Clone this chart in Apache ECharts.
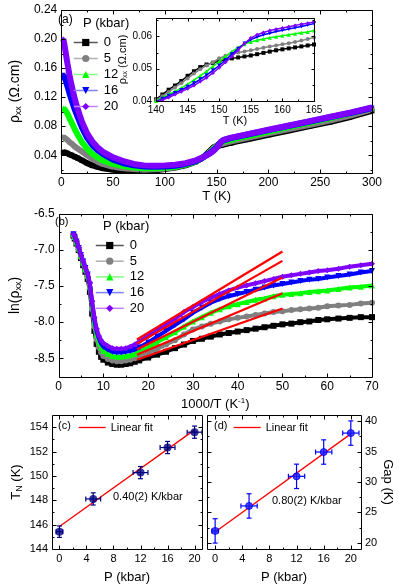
<!DOCTYPE html>
<html><head><meta charset="utf-8">
<script src="https://cdn.jsdelivr.net/npm/echarts@6/dist/echarts.min.js"></script>
<style>html,body{margin:0;padding:0;background:#fff}#c{width:399px;height:588px}</style>
</head><body><div id="c"></div>
<script>
// ---------- Panel (a): rho_xx vs T ----------
const pressureNames = ['0','5','12','16','20'];
const T_low = [2,3,4,6,8,10,13,16,20,25,30,35,40,50,60,70,80,90,100,110,120,130,135];
const rhoLow0  = [0.044,0.044,0.0435,0.0425,0.041,0.040,0.038,0.036,0.033,0.029,0.026,0.024,0.022,0.020,0.019,0.0185,0.0185,0.019,0.021,0.023,0.026,0.031,0.0355];
const rhoLow5  = [0.065,0.064,0.063,0.061,0.058,0.056,0.052,0.049,0.045,0.040,0.035,0.031,0.028,0.024,0.022,0.021,0.020,0.0205,0.0215,0.0235,0.027,0.0315,0.0355];
const rhoLow12 = [0.105,0.104,0.102,0.097,0.091,0.085,0.076,0.068,0.058,0.049,0.042,0.037,0.033,0.028,0.025,0.023,0.022,0.022,0.0225,0.024,0.027,0.0315,0.035];
const rhoLow16 = [0.150,0.148,0.144,0.135,0.125,0.116,0.103,0.092,0.078,0.064,0.054,0.047,0.042,0.034,0.029,0.026,0.0245,0.024,0.0245,0.0255,0.028,0.032,0.035];
const rhoLow20 = [0.200,0.193,0.184,0.166,0.150,0.136,0.118,0.103,0.086,0.070,0.059,0.051,0.045,0.037,0.032,0.028,0.026,0.0255,0.026,0.027,0.029,0.033,0.036];

const T_inset = [140,141,142,143,144,145,146,147,148,149,150,151,152,153,154,155,156,157,158,159,160,161,162,163,164,165];
const rhoIns0  = [0.0405,0.042,0.0435,0.0448,0.0462,0.0478,0.0492,0.0505,0.0513,0.0518,0.0523,0.0528,0.0532,0.0535,0.0538,0.0541,0.0545,0.0549,0.0553,0.0557,0.056,0.0563,0.0566,0.0569,0.0572,0.0575];
const rhoIns5  = [0.0403,0.0415,0.0428,0.0442,0.0455,0.047,0.0485,0.0498,0.051,0.052,0.0532,0.054,0.0546,0.055,0.0553,0.0557,0.0561,0.0565,0.0569,0.0572,0.0576,0.0579,0.0583,0.0587,0.0592,0.0597];
const rhoIns12 = [0.0400,0.041,0.042,0.043,0.044,0.0452,0.0465,0.0478,0.0492,0.0507,0.0522,0.0538,0.0553,0.0566,0.0576,0.0583,0.0588,0.0592,0.0596,0.0599,0.0602,0.0605,0.0608,0.0611,0.0614,0.0618];
const rhoIns16 = [0.0398,0.0407,0.0416,0.0425,0.0434,0.0444,0.0455,0.0467,0.048,0.0495,0.051,0.0527,0.0545,0.0562,0.0578,0.059,0.0598,0.0605,0.061,0.0615,0.0619,0.0623,0.0627,0.0631,0.0635,0.064];
const rhoIns20 = [0.0395,0.0403,0.0411,0.042,0.0429,0.0438,0.0448,0.046,0.0472,0.0487,0.0503,0.052,0.0538,0.0558,0.0578,0.0595,0.0605,0.0612,0.0618,0.0622,0.0626,0.063,0.0634,0.0638,0.0641,0.0645];

const T_high = [170,180,200,220,240,260,280,300];
const rhoHigh0  = [0.059,0.062,0.068,0.074,0.080,0.086,0.093,0.101];
const rhoHigh5  = [0.061,0.064,0.070,0.076,0.082,0.088,0.095,0.103];
const rhoHigh12 = [0.0635,0.0665,0.0725,0.079,0.085,0.0915,0.098,0.1055];
const rhoHigh16 = [0.0655,0.0685,0.0745,0.0805,0.0865,0.0925,0.0985,0.105];
const rhoHigh20 = [0.066,0.069,0.075,0.081,0.087,0.093,0.099,0.106];

// ---------- Panel (b): ln(rho) vs 1000/T ----------
const invT = [3.33,3.6,4,4.5,5,5.5,6,6.5,7,7.5,8,8.5,9,9.5,10,11,12,13,14,15,16,17,18,20,22,24,26,28,30,32,34,36,38,40,42,44,46,48,50,52,54,56,58,60,62.5,65,67.5,70];
const lnRho0  = [-6.80,-6.84,-6.91,-7.00,-7.11,-7.21,-7.30,-7.40,-7.58,-7.88,-8.12,-8.30,-8.41,-8.48,-8.52,-8.56,-8.58,-8.59,-8.59,-8.58,-8.57,-8.55,-8.53,-8.49,-8.45,-8.41,-8.36,-8.31,-8.26,-8.23,-8.20,-8.17,-8.15,-8.13,-8.11,-8.09,-8.07,-8.05,-8.03,-8.02,-8.00,-7.99,-7.97,-7.96,-7.95,-7.94,-7.93,-7.93];
const lnRho5  = [-6.79,-6.83,-6.90,-6.99,-7.10,-7.19,-7.28,-7.37,-7.53,-7.82,-8.06,-8.24,-8.35,-8.42,-8.47,-8.51,-8.53,-8.54,-8.54,-8.53,-8.52,-8.50,-8.48,-8.43,-8.37,-8.31,-8.25,-8.17,-8.10,-8.06,-8.02,-7.99,-7.96,-7.94,-7.92,-7.90,-7.88,-7.86,-7.85,-7.83,-7.82,-7.81,-7.80,-7.78,-7.77,-7.76,-7.74,-7.73];
const lnRho12 = [-6.78,-6.82,-6.89,-6.98,-7.08,-7.17,-7.26,-7.35,-7.50,-7.77,-8.00,-8.17,-8.28,-8.35,-8.40,-8.44,-8.47,-8.48,-8.48,-8.47,-8.46,-8.44,-8.41,-8.35,-8.28,-8.21,-8.14,-8.06,-7.99,-7.93,-7.87,-7.82,-7.78,-7.75,-7.72,-7.69,-7.67,-7.64,-7.62,-7.61,-7.60,-7.58,-7.57,-7.56,-7.54,-7.52,-7.51,-7.49];
const lnRho16 = [-6.78,-6.82,-6.88,-6.97,-7.07,-7.16,-7.25,-7.34,-7.48,-7.74,-7.97,-8.13,-8.23,-8.30,-8.34,-8.38,-8.41,-8.42,-8.42,-8.41,-8.40,-8.38,-8.35,-8.28,-8.20,-8.12,-8.04,-7.96,-7.87,-7.80,-7.73,-7.68,-7.64,-7.61,-7.58,-7.55,-7.52,-7.49,-7.47,-7.45,-7.43,-7.41,-7.40,-7.38,-7.36,-7.34,-7.31,-7.29];
const lnRho20 = [-6.78,-6.81,-6.87,-6.96,-7.06,-7.15,-7.24,-7.33,-7.46,-7.71,-7.93,-8.09,-8.19,-8.25,-8.29,-8.33,-8.36,-8.37,-8.37,-8.36,-8.34,-8.31,-8.27,-8.19,-8.11,-8.03,-7.95,-7.86,-7.79,-7.72,-7.66,-7.61,-7.56,-7.52,-7.49,-7.46,-7.43,-7.40,-7.37,-7.35,-7.33,-7.31,-7.29,-7.28,-7.26,-7.23,-7.21,-7.19];
const fitX   = [17.5, 50];
const fitLn0  = [-8.52,-7.81];
const fitLn5  = [-8.45,-7.60];
const fitLn12 = [-8.38,-7.38];
const fitLn16 = [-8.30,-7.15];
const fitLn20 = [-8.24,-7.02];

// ---------- Panels (c), (d) ----------
const P = [0,5,12,16,20];
const TN = [145.42,148.11,150.27,152.33,153.59];
const TNerr = [0.47,0.5,0.5,0.5,0.5];
const PerrC = [0.5,1.1,1.1,1.1,1.1];
const fitP = [0,20];
const fitTN = [145.84,153.78];
const gap = [21.97,26.07,30.93,34.92,38.03];
const gapErr = [2,2,2,2,2];
const PerrD = [0.5,1.2,1.2,1.2,1.2];
const fitGap = [21.8,37.9];

// ---------- Tick label values and tick positions ----------
const aXLabels = [0,50,100,150,200,250,300];
const aXMinor = [25,75,125,175,225,275];
const aYLabels = [0.04,0.08,0.12,0.16,0.20,0.24];
const aYMinor = [0.02,0.06,0.10,0.14,0.18,0.22];
const iXLabels = [140,145,150,155,160,165];
const iXMinor = [142.5,147.5,152.5,157.5,162.5];
const iYLabels = [0.04,0.05,0.06];
const iYMinor = [0.045,0.055,0.065];
const bXLabels = [0,10,20,30,40,50,60,70];
const bXMinor = [5,15,25,35,45,55,65];
const bYLabels = [-6.5,-7.0,-7.5,-8.0,-8.5];
const bYMinor = [-6.75,-7.25,-7.75,-8.25];
const pLabels = [0,4,8,12,16,20];
const pMinor = [2,6,10,14,18];
const cYLabels = [144,146,148,150,152,154];
const cYMinor = [145,147,149,151,153];
const dYLabels = [20,25,30,35,40];
const dYMinor = [22.5,27.5,32.5,37.5];

// ---------- styles ----------
const colors = ['#000000','#808080','#00ff00','#0000ff','#7f00ff'];
const legendLine = ['#555555','#b0b0b0','#80ff80','#8080ff','#c080ff'];
const symbols = ['rect','circle','triangle','triangle','diamond'];
const rots = [0,0,0,180,0];
const FONT = 'Liberation Sans, Arial, sans-serif';

const zip = (xs, ys) => xs.map((x, i) => [x, ys[i]]);

function ax(gi, pos, min, max, labels, fmt, fs, extra) {
  const o = {
    gridIndex: gi, type: 'value', position: pos, min: min, max: max,
    axisLine: {show: false, onZero: false},
    axisTick: {show: false},
    axisLabel: {show: true, customValues: labels, formatter: fmt, fontSize: fs, color: '#000', fontFamily: FONT, margin: 4},
    splitLine: {show: false},
    nameTextStyle: {fontFamily: FONT, color: '#000', fontSize: 13}
  };
  return Object.assign(o, extra || {});
}
const f2 = v => v.toFixed(2);
const f1 = v => v.toFixed(1);
const fi = v => String(v);

const subRich = {
  s: {fontSize: 9, fontFamily: FONT, color: '#000', padding: [7, 0, 0, 0]},
  sup: {fontSize: 8, fontFamily: FONT, color: '#000', padding: [0, 0, 7, 0]}
};

const xAxis = [
  ax(0, 'bottom', 0, 300, aXLabels, fi, 12, {name: 'T (K)', nameLocation: 'middle', nameGap: 16}),
  ax(1, 'bottom', 140, 165, iXLabels, fi, 10, {name: 'T (K)', nameLocation: 'middle', nameGap: 13,
     nameTextStyle: {fontFamily: FONT, color: '#000', fontSize: 11}}),
  ax(2, 'bottom', 0, 70, bXLabels, fi, 12, {name: '1000/T (K{sup|-1})', nameLocation: 'middle', nameGap: 20,
     nameTextStyle: {fontFamily: FONT, color: '#000', fontSize: 13, rich: subRich}}),
  ax(3, 'bottom', -1.1, 21.1, pLabels, fi, 11, {name: 'P (kbar)', nameLocation: 'middle', nameGap: 22}),
  ax(4, 'bottom', -1.2, 21.5, pLabels, fi, 11, {name: 'P (kbar)', nameLocation: 'middle', nameGap: 22})
];
const yAxis = [
  ax(0, 'left', 0.0155, 0.24, aYLabels, f2, 12, {name: 'ρ{s|xx} (Ω.cm)', nameLocation: 'middle', nameGap: 29,
     nameTextStyle: {fontFamily: FONT, color: '#000', fontSize: 14, rich: subRich}}),
  ax(1, 'left', 0.04, 0.0657, iYLabels, f2, 10, {name: 'ρ{s|xx} (Ω.cm)', nameLocation: 'middle', nameGap: 27,
     nameTextStyle: {fontFamily: FONT, color: '#000', fontSize: 11, rich: {s: {fontSize: 7, padding: [5,0,0,0], fontFamily: FONT}}}}),
  ax(2, 'left', -8.76, -6.5, bYLabels, f1, 12, {name: 'ln(ρ{s|xx})', nameLocation: 'middle', nameGap: 24,
     nameTextStyle: {fontFamily: FONT, color: '#000', fontSize: 14, rich: subRich}}),
  ax(3, 'left', 144, 155, cYLabels, fi, 11, {name: 'T{s|N} (K)', nameLocation: 'middle', nameGap: 28,
     nameTextStyle: {fontFamily: FONT, color: '#000', fontSize: 13, rich: subRich}}),
  ax(4, 'right', 19, 41, dYLabels, fi, 11, {name: 'Gap (K)', nameLocation: 'middle', nameGap: 20, nameRotate: -90})
];

const grid = [
  {left: 52, top: 10, width: 320, height: 163},
  {left: 156, top: 18, width: 158, height: 83, show: true, backgroundColor: '#fff', borderWidth: 0, z: 5},
  {left: 52, top: 214, width: 320, height: 163},
  {left: 52, top: 415, width: 150, height: 134},
  {left: 207, top: 415, width: 154, height: 134}
];

const lowArr = [rhoLow0, rhoLow5, rhoLow12, rhoLow16, rhoLow20];
const insArr = [rhoIns0, rhoIns5, rhoIns12, rhoIns16, rhoIns20];
const highArr = [rhoHigh0, rhoHigh5, rhoHigh12, rhoHigh16, rhoHigh20];
const lnArr = [lnRho0, lnRho5, lnRho12, lnRho16, lnRho20];
const fitArr = [fitLn0, fitLn5, fitLn12, fitLn16, fitLn20];

const series = [];
pressureNames.forEach((nm, i) => {
  series.push({
    name: nm, type: 'line', xAxisIndex: 0, yAxisIndex: 0,
    data: zip(T_low.concat(T_inset, T_high), lowArr[i].concat(insArr[i], highArr[i])),
    symbol: symbols[i], symbolRotate: rots[i], symbolSize: 5, showSymbol: true,
    color: colors[i], lineStyle: {width: 6, color: colors[i]}, itemStyle: {color: colors[i]},
    animation: false, z: 2 + i * 0.1
  });
});
pressureNames.forEach((nm, i) => {
  series.push({
    name: nm, type: 'line', xAxisIndex: 1, yAxisIndex: 1,
    data: zip(T_inset, insArr[i]),
    symbol: symbols[i], symbolRotate: rots[i], symbolSize: 4,
    color: colors[i], lineStyle: {width: 1.5, color: colors[i]}, itemStyle: {color: colors[i]},
    animation: false, z: 6 + i * 0.1
  });
});
pressureNames.forEach((nm, i) => {
  series.push({
    name: nm, type: 'line', xAxisIndex: 2, yAxisIndex: 2,
    data: zip(invT, lnArr[i]),
    symbol: symbols[i], symbolRotate: rots[i], symbolSize: 6,
    color: colors[i], lineStyle: {width: 4, color: colors[i]}, itemStyle: {color: colors[i]},
    animation: false, z: 2 + i * 0.1
  });
});
fitArr.forEach((f, i) => {
  series.push({
    name: 'fit' + i, type: 'line', xAxisIndex: 2, yAxisIndex: 2,
    data: zip(fitX, f), symbol: 'none', lineStyle: {width: 2.2, color: '#ff0000'},
    animation: false, z: 4
  });
});

function errBars(color) {
  return function (params, api) {
    const x = api.value(0), y = api.value(1), ex = api.value(2), ey = api.value(3);
    const l = api.coord([x - ex, y]), r = api.coord([x + ex, y]);
    const t = api.coord([x, y + ey]), b = api.coord([x, y - ey]);
    const st = {stroke: color, lineWidth: 1.2};
    const cap = 2.5;
    return {type: 'group', children: [
      {type: 'line', shape: {x1: l[0], y1: l[1], x2: r[0], y2: r[1]}, style: st},
      {type: 'line', shape: {x1: t[0], y1: t[1], x2: b[0], y2: b[1]}, style: st},
      {type: 'line', shape: {x1: l[0], y1: l[1] - cap, x2: l[0], y2: l[1] + cap}, style: st},
      {type: 'line', shape: {x1: r[0], y1: r[1] - cap, x2: r[0], y2: r[1] + cap}, style: st},
      {type: 'line', shape: {x1: t[0] - cap, y1: t[1], x2: t[0] + cap, y2: t[1]}, style: st},
      {type: 'line', shape: {x1: b[0] - cap, y1: b[1], x2: b[0] + cap, y2: b[1]}, style: st}
    ]};
  };
}

// (c)
series.push({name: 'Linear fit', type: 'line', xAxisIndex: 3, yAxisIndex: 3, data: zip(fitP, fitTN),
  symbol: 'none', lineStyle: {width: 1.3, color: '#ff0000'}, color: '#ff0000', animation: false, z: 3});
series.push({type: 'custom', xAxisIndex: 3, yAxisIndex: 3, renderItem: errBars('#00007f'),
  data: P.map((p, i) => [p, TN[i], PerrC[i], TNerr[i]]), encode: {x: 0, y: 1}, animation: false, z: 4});
series.push({type: 'scatter', xAxisIndex: 3, yAxisIndex: 3, data: zip(P, TN), symbol: 'circle', symbolSize: 8,
  itemStyle: {color: '#00007f'}, animation: false, z: 5});
// (d)
series.push({name: 'Linear fit', type: 'line', xAxisIndex: 4, yAxisIndex: 4, data: zip(fitP, fitGap),
  symbol: 'none', lineStyle: {width: 1.3, color: '#ff0000'}, color: '#ff0000', animation: false, z: 3});
series.push({type: 'custom', xAxisIndex: 4, yAxisIndex: 4, renderItem: errBars('#0000ff'),
  data: P.map((p, i) => [p, gap[i], PerrD[i], gapErr[i]]), encode: {x: 0, y: 1}, animation: false, z: 4});
series.push({type: 'scatter', xAxisIndex: 4, yAxisIndex: 4, data: zip(P, gap), symbol: 'circle', symbolSize: 7,
  itemStyle: {color: '#1a1aff', borderColor: '#0000ff'}, animation: false, z: 5});

// ---------- frames and inward ticks (mirrored on all four sides), placed by the axes' scales ----------
function frameTicks(params, api) {
  const cs = params.coordSys;
  const kind = api.value(2), len = api.value(3);
  const st = {stroke: '#000', lineWidth: 1};
  const r = v => Math.round(v) + 0.5;
  const L = cs.x, R = cs.x + cs.width, T = cs.y, B = cs.y + cs.height;
  if (kind === 2) {
    return {type: 'rect', shape: {x: r(L), y: r(T), width: Math.round(R) - Math.round(L), height: Math.round(B) - Math.round(T)},
            style: {fill: null, stroke: '#000', lineWidth: 1}};
  }
  const c = api.coord([api.value(0), api.value(1)]);
  if (kind === 0) {
    const x = r(c[0]);
    return {type: 'group', children: [
      {type: 'line', shape: {x1: x, y1: r(B), x2: x, y2: r(B) - len}, style: st},
      {type: 'line', shape: {x1: x, y1: r(T), x2: x, y2: r(T) + len}, style: st}]};
  }
  const y = r(c[1]);
  return {type: 'group', children: [
    {type: 'line', shape: {x1: r(L), y1: y, x2: r(L) + len, y2: y}, style: st},
    {type: 'line', shape: {x1: r(R), y1: y, x2: r(R) - len, y2: y}, style: st}]};
}
function tickRows(xMin, yMin, xMaj, xMin_, yMaj, yMin_, majLen, minLen) {
  const rows = [[xMin, yMin, 2, 0]];
  xMaj.forEach(v => rows.push([v, yMin, 0, majLen]));
  xMin_.forEach(v => rows.push([v, yMin, 0, minLen]));
  yMaj.forEach(v => rows.push([xMin, v, 1, majLen]));
  yMin_.forEach(v => rows.push([xMin, v, 1, minLen]));
  return rows;
}
const tickSets = [
  [0, 0, 0.0155, aXLabels, aXMinor, aYLabels, aYMinor, 4, 2, 10],
  [1, 140, 0.04, iXLabels, iXMinor, iYLabels, iYMinor, 3, 2, 10],
  [2, 0, -8.76, bXLabels, bXMinor, bYLabels, bYMinor, 4, 2, 10],
  [3, -1.1, 144, pLabels, pMinor, cYLabels, cYMinor, 4, 2, 10],
  [4, -1.2, 19, pLabels, pMinor, dYLabels, dYMinor, 4, 2, 10]
];
tickSets.forEach(s => {
  series.push({type: 'custom', xAxisIndex: s[0], yAxisIndex: s[0], renderItem: frameTicks, clip: false,
    data: tickRows(s[1], s[2], s[3], s[4], s[5], s[6], s[7], s[8]), encode: {x: 0, y: 1},
    silent: true, animation: false, z: s[9]});
});

const legendData = pressureNames.map((n, i) => ({name: n, lineStyle: {color: legendLine[i], width: 1.5}}));
const legendCommon = {orient: 'vertical', itemWidth: 24, itemHeight: 9, itemGap: 3,
  textStyle: {fontFamily: FONT, fontSize: 13, color: '#000', padding: [0, 0, 0, 1]},
  lineStyle: {width: 1.5}, selectedMode: false, data: legendData};
const fitLegendItem = [{name: 'Linear fit', itemStyle: {color: 'rgba(0,0,0,0)', borderColor: 'rgba(0,0,0,0)'}, lineStyle: {color: '#ff0000', width: 1.3}}];

const legend = [
  Object.assign({}, legendCommon, {left: 68, top: 31}),
  Object.assign({}, legendCommon, {left: 90, top: 234, itemWidth: 28, itemGap: 2.7}),
  {left: 73, top: 417, itemWidth: 27, itemHeight: 8, data: fitLegendItem, selectedMode: false,
   textStyle: {fontFamily: FONT, fontSize: 11, color: '#000'}},
  {left: 228, top: 417, itemWidth: 27, itemHeight: 8, data: fitLegendItem, selectedMode: false,
   textStyle: {fontFamily: FONT, fontSize: 11, color: '#000'}}
];

const txt = (t, x, y, size) => ({type: 'text', left: x, top: y, z: 100,
  style: {text: t, fontFamily: FONT, fontSize: size, fill: '#000'}});
const graphic = [
  txt('(a)', 58, 14, 12),
  txt('P (kbar)', 83, 17, 13),
  txt('(b)', 55, 216, 11),
  txt('P (kbar)', 103, 220, 13),
  txt('(c)', 58, 420, 11),
  txt('0.40(2) K/kbar', 113, 491, 11),
  txt('(d)', 214, 420, 11),
  txt('0.80(2) K/kbar', 272, 495, 11)
];

const chart = echarts.init(document.getElementById('c'), null, {renderer: 'canvas'});
chart.setOption({animation: false, backgroundColor: '#fff', grid, xAxis, yAxis, series, legend, graphic});
</script></body></html>
